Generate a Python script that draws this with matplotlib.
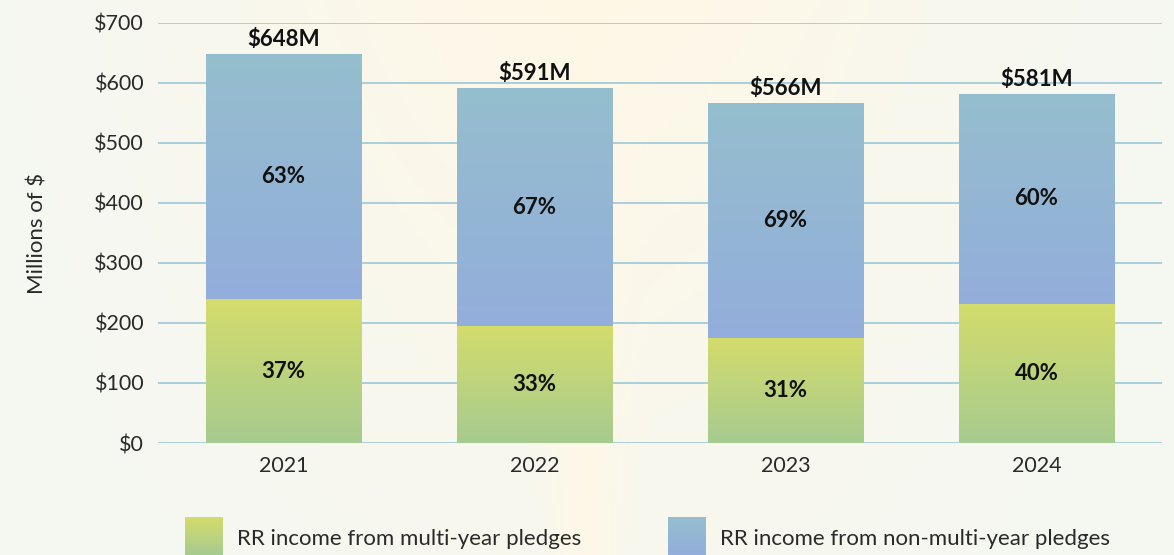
import matplotlib.pyplot as plt
import numpy as np
from matplotlib.colors import LinearSegmentedColormap

years = ["2021", "2022", "2023", "2024"]
totals = [648, 591, 566, 581]
multi_pct = [37, 33, 31, 40]
non_multi_pct = [63, 67, 69, 60]
yticks = [0, 100, 200, 300, 400, 500, 600, 700]
legend_labels = ["RR income from multi-year pledges", "RR income from non-multi-year pledges"]

plt.rcParams['font.family'] = ['Lato', 'DejaVu Sans']

green_cmap = LinearSegmentedColormap.from_list("g", ["#a6cb8f", "#d4dc6c"])
blue_cmap = LinearSegmentedColormap.from_list("b", ["#93aedb", "#95bece"])

fig = plt.figure(figsize=(11.74, 5.55), dpi=100)

# background wash
bg = fig.add_axes([0, 0, 1, 1], zorder=-10)
xx, yy = np.meshgrid(np.linspace(0, 1, 300), np.linspace(0, 1, 150))
w = np.exp(-((xx - 0.5) / 0.33) ** 2) * (0.3 + 0.7 * yy)
w = np.clip(w + 0.6 * np.exp(-((xx - 0.5) / 0.03) ** 2) * (1 - yy), 0, 1)
edge = np.array([0.960, 0.972, 0.950])
warm = np.array([0.995, 0.972, 0.905])
img = edge[None, None, :] * (1 - w[..., None]) + warm[None, None, :] * w[..., None]
bg.imshow(img, extent=[0, 1, 0, 1], origin="lower", aspect="auto")
bg.axis("off")

ax = fig.add_axes([0.1346, 0.2018, 0.8552, 0.7568])
ax.set_facecolor("none")

width = 0.62
grad = np.linspace(0, 1, 256).reshape(-1, 1)
for i, (tot, mp, nmp) in enumerate(zip(totals, multi_pct, non_multi_pct)):
    low = tot * mp / 100
    x0, x1 = i - width / 2, i + width / 2
    ax.imshow(grad, extent=[x0, x1, 0, low], origin="lower", aspect="auto",
              cmap=green_cmap, zorder=3)
    ax.imshow(grad, extent=[x0, x1, low, tot], origin="lower", aspect="auto",
              cmap=blue_cmap, zorder=3)
    ax.text(i, low / 2, f"{mp}%", ha="center", va="center", fontsize=16,
            fontweight="bold", color="#111111", zorder=4)
    ax.text(i, (low + tot) / 2, f"{nmp}%", ha="center", va="center", fontsize=16,
            fontweight="bold", color="#111111", zorder=4)
    ax.text(i, tot + 7, f"${tot}M", ha="center", va="bottom", fontsize=16,
            fontweight="bold", color="#111111", zorder=4)

ax.set_xlim(-0.5, 3.5)
ax.set_ylim(0, 700)
ax.set_yticks(yticks)
ax.set_yticklabels([f"${v}" for v in yticks], fontsize=15.5, color="#2a2a2a")
ax.set_xticks(range(len(years)))
ax.set_xticklabels(years, fontsize=15.5, color="#2a2a2a")
ax.tick_params(length=0, pad=9)
ax.tick_params(axis="y", pad=10)
ax.grid(axis="y", color="#9cc8d8", linewidth=1.2, zorder=1)
ax.set_axisbelow(True)
for s in ax.spines.values():
    s.set_visible(False)
ax.set_ylabel("Millions of $", fontsize=16, color="#2a2a2a")
ax.yaxis.set_label_coords(-0.11, 0.5)

# legend swatches
for k, (cm, lab) in enumerate(zip([green_cmap, blue_cmap], legend_labels)):
    x_px = [185, 668][k]
    sw = fig.add_axes([x_px / 1174, 0, 38 / 1174, 38 / 555])
    sw.imshow(grad, origin="lower", aspect="auto", cmap=cm)
    sw.axis("off")
    fig.text((x_px + 52) / 1174, 16 / 555, lab, fontsize=16, color="#2a2a2a",
             va="center", ha="left")

fig.savefig("out.png", dpi=100)
